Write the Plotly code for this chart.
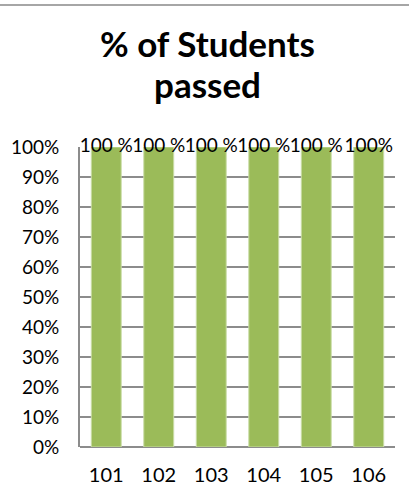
import plotly.graph_objects as go

categories = ["101", "102", "103", "104", "105", "106"]
pass_rate = [1.0, 1.0, 1.0, 1.0, 1.0, 1.0]
data_labels = ["100 %", "100 %", "100 %", "100 %", "100 %", "100%"]
y_ticks = [0, 0.1, 0.2, 0.3, 0.4, 0.5, 0.6, 0.7, 0.8, 0.9, 1.0]
title_lines = ["% of Students", "passed"]

W, H = 409, 487
L, R, T, B = 80, 14, 147, 40
FONT = "Lato, Calibri, Carlito, sans-serif"

fig = go.Figure()
fig.add_trace(go.Bar(
    x=categories, y=pass_rate,
    marker=dict(color="#9BBB59", line=dict(color="#c9dca6", width=1)),
    width=0.57, showlegend=False, hoverinfo="skip",
))
fig.add_trace(go.Scatter(
    x=categories, y=pass_rate, mode="text", text=data_labels,
    textposition="middle center",
    textfont=dict(family=FONT, size=19, color="#000000"),
    showlegend=False, hoverinfo="skip", cliponaxis=False,
))

plot_w = W - L - R
plot_h = H - T - B


def py(pix):
    return (H - B - pix) / plot_h


def px(pix):
    return (pix - L) / plot_w


top_line_y = py(5)
title_baselines = [58, 99]

annotations = []
for line, base in zip(title_lines, title_baselines):
    annotations.append(dict(
        text="<b>" + line + "</b>",
        xref="paper", yref="paper",
        x=px(W / 2 + 3), y=py(base + 8),
        xanchor="center", yanchor="bottom",
        showarrow=False, align="center",
        font=dict(family=FONT, size=35, color="#000000"),
    ))

fig.update_layout(
    width=W, height=H,
    margin=dict(l=L, r=R, t=T, b=B, pad=0, autoexpand=False),
    paper_bgcolor="white", plot_bgcolor="white",
    font=dict(family=FONT, size=19, color="#000000"),
    bargap=0.43,
    shapes=[dict(type="line", xref="paper", yref="paper",
                 x0=px(0), x1=px(W),
                 y0=top_line_y, y1=top_line_y,
                 line=dict(color="#a6a6a6", width=2))],
    annotations=annotations,
)
fig.update_xaxes(
    type="category", showgrid=False, showline=False, ticks="",
    automargin=False,
    tickfont=dict(family=FONT, size=20, color="#000000"),
    ticklabelstandoff=14,
)
fig.update_yaxes(
    range=[0, 1], tickvals=y_ticks, tickformat=".0%",
    automargin=False,
    showgrid=True, gridcolor="#8c8c8c", gridwidth=1.5,
    showline=True, linecolor="#8c8c8c", linewidth=2,
    zeroline=True, zerolinecolor="#8c8c8c", zerolinewidth=2,
    ticks="", ticklabelstandoff=15,
    tickfont=dict(family=FONT, size=19, color="#000000"),
)

fig.write_html("out.html",
               config={"displayModeBar": False},
               post_script="document.body.style.margin='0';")
